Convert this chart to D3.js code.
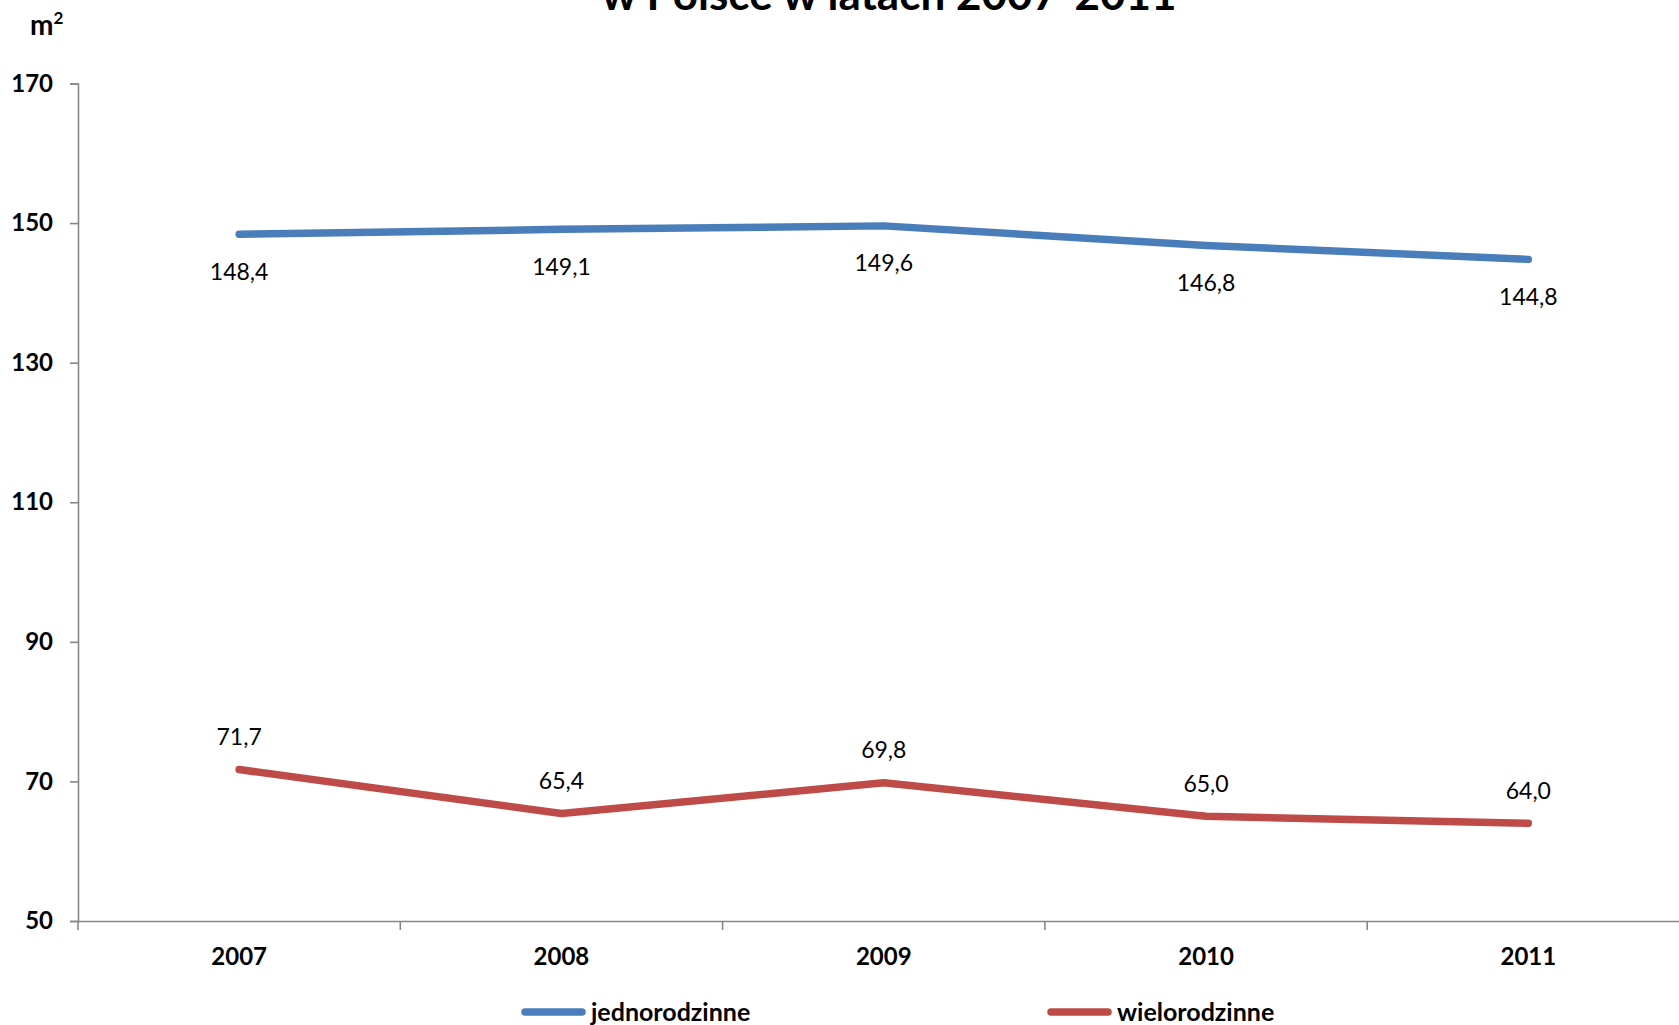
<!DOCTYPE html>
<html><head><meta charset="utf-8">
<script src="https://cdn.jsdelivr.net/npm/d3@7"></script>
<style>
html,body{margin:0;padding:0;background:#fff;overflow:hidden;}
text{font-family:Lato,"Open Sans",sans-serif;}
</style></head>
<body>
<svg id="c" width="1679" height="1025"></svg>
<script>
const years = ["2007","2008","2009","2010","2011"];
const jednorodzinne = [148.4,149.1,149.6,146.8,144.8];
const wielorodzinne = [71.7,65.4,69.8,65.0,64.0];
const yTicks = [50,70,90,110,130,150,170];
const seriesNames = ["jednorodzinne","wielorodzinne"];
const colors = ["#4A7EBB","#BE4B48"];
const titleText = "w Polsce w latach 2007-2011";

(function(){
const svg = d3.select("#c");
const mLeft = 78, mTop = 83.5, mBottom = 921, mRight = 78 + 5*322.3;
const x = d3.scaleBand().domain(years).range([mLeft, mRight]).padding(0);
const y = d3.scaleLinear().domain([50,170]).range([mBottom, mTop]);
const fmt = v => d3.format(".1f")(v).replace(".", ",");

// title (cut off at top, as in the reference)
svg.append("text").attr("x", 889).attr("y", 10).attr("text-anchor","middle")
  .attr("font-size", 44).attr("font-weight","bold").attr("fill","#000").text(titleText);

// unit label
const u = svg.append("text").attr("x", 30).attr("y", 35).attr("font-size", 28).attr("font-weight","bold").attr("fill","#000");
u.append("tspan").text("m");
u.append("tspan").attr("dy", -11).attr("font-size", 17).text("2");

// y axis
const ya = svg.append("g").attr("transform", `translate(${mLeft},0)`)
  .call(d3.axisLeft(y).tickValues(yTicks).tickSize(8).tickPadding(17).tickFormat(d3.format("d")));
ya.select(".domain").attr("stroke","#878787").attr("stroke-width",1.6);
ya.selectAll(".tick line").attr("stroke","#878787").attr("stroke-width",1.6);
ya.selectAll(".tick text").attr("font-size",24).attr("font-weight","bold").attr("fill","#000")
  .style("font-family","Lato, sans-serif");

// x axis
const xa = svg.append("g").attr("transform", `translate(0,${mBottom})`)
  .call(d3.axisBottom(x).tickSize(0).tickPadding(27));
xa.select(".domain").attr("stroke","#878787").attr("stroke-width",1.6);
xa.selectAll(".tick text").attr("font-size",24).attr("font-weight","bold").attr("fill","#000")
  .style("font-family","Lato, sans-serif");
// boundary ticks
const bounds = d3.range(years.length+1).map(i => mLeft + i*x.bandwidth());
svg.append("g").selectAll("line").data(bounds).join("line")
  .attr("x1", d=>d).attr("x2", d=>d).attr("y1", mBottom).attr("y2", mBottom+9)
  .attr("stroke","#878787").attr("stroke-width",1.6);

const cx = d => x(d) + x.bandwidth()/2;
const data = [jednorodzinne, wielorodzinne];
const line = d3.line().x((d,i)=>cx(years[i])).y(d=>y(d));

data.forEach((vals, si) => {
  svg.append("path").attr("d", line(vals)).attr("fill","none")
    .attr("stroke", colors[si]).attr("stroke-width", 7.5)
    .attr("stroke-linecap","round").attr("stroke-linejoin","round");
  svg.append("g").selectAll("text").data(vals).join("text")
    .attr("x",(d,i)=>cx(years[i]))
    .attr("y", d => si===0 ? y(d)+37 : y(d)-33)
    .attr("dy","0.36em")
    .attr("text-anchor","middle").attr("font-size",23).attr("fill","#000")
    .text(fmt);
});

// legend
const legX = [525, 1051];
seriesNames.forEach((n, i) => {
  svg.append("line").attr("x1", legX[i]).attr("x2", legX[i]+57).attr("y1", 1012).attr("y2", 1012)
    .attr("stroke", colors[i]).attr("stroke-width", 7.5).attr("stroke-linecap","round");
  svg.append("text").attr("x", legX[i]+66).attr("y", 1012).attr("dy","0.36em")
    .attr("font-size", 25).attr("font-weight","bold").attr("fill","#000").text(n);
});
})();
</script>
</body></html>
